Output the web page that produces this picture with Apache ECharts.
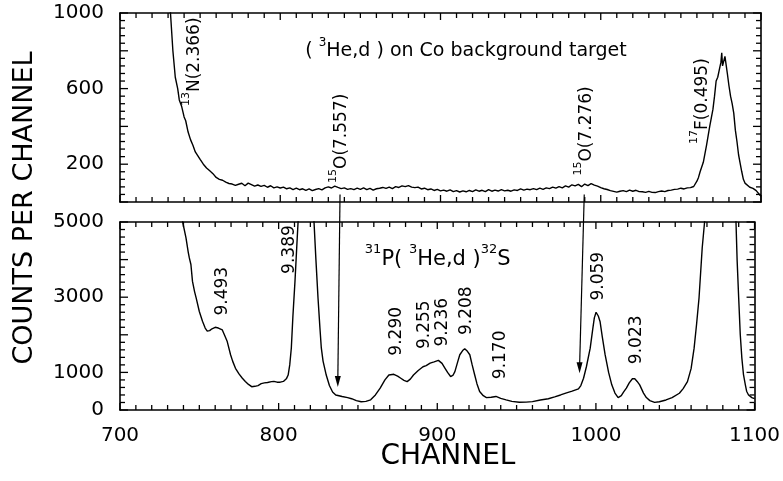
<!DOCTYPE html>
<html><head><meta charset="utf-8">
<script src="https://cdn.jsdelivr.net/npm/echarts@6/dist/echarts.min.js"></script>
<style>html,body{margin:0;padding:0;background:#fff}#c{width:783px;height:481px}</style>
</head><body><div id="c"></div>
<script>
// ---------- data ----------
const xTickLabels = [700, 800, 900, 1000, 1100];
const topTickLabels = [200, 600, 1000];
const bottomTickLabels = [0, 1000, 3000, 5000];

const topChannels = [728,730,731.5,733,734.5,736,737,738.5,740,741,742.5,744,745.5,747,748.5,750,752,754,756,758,760,762,764,766,768,
 770,772,774,776,778,780,782,784,786,788,790,792,794,796,798,800,802,804,806,808,810,812,814,816,818,820,822,824,826,828,830,832,834,836,838,
 840,842,844,846,848,850,852,854,856,858,860,862,864,866,868,870,872,874,876,878,880,882,884,886,888,890,892,894,896,898,900,902,904,906,908,
 910,912,914,916,918,920,922,924,926,928,930,932,934,936,938,940,942,944,946,948,950,952,954,956,958,960,962,964,966,968,970,972,974,976,978,
 980,982,984,986,988,990,992,994,996,998,1000,1002,1004,1006,1008,1010,1012,1014,1016,1018,1020,1022,1024,1026,1028,1030,1032,1034,1036,1038,
 1040,1042,1044,1046,1048,1050,1052,1054,1056,1058,1060,1061,1062,1063,1064,1065,1066,1067,1068,1069,1070,1071,1072,1073,1074,1075,1075.5,1076,
 1077,1077.5,1078,1079,1080,1081,1082,1083,1084,1085,1086,1087,1088,1089,1090,1091,1093,1095,1097,1099,1100];
const topCounts = [1400,1150,1000,800,660,600,540,505,450,430,370,330,300,265,245,225,200,180,165,150,130,120,115,105,98,
 95,88,94,99,86,100,92,84,90,83,88,78,86,75,80,74,79,70,75,66,73,65,70,62,69,60,66,71,64,75,80,74,84,77,71,
 75,67,71,65,73,67,75,65,72,63,70,73,77,72,79,71,81,77,85,81,87,79,76,79,69,73,65,69,61,67,59,63,57,64,55,
 60,53,59,54,61,55,64,57,62,55,65,57,63,58,65,59,62,57,64,61,69,63,68,65,71,65,73,67,75,71,79,73,81,75,85,
 79,91,85,93,81,95,87,97,89,84,76,70,66,60,56,52,57,60,55,63,57,62,55,54,51,56,51,50,55,58,
 55,61,63,67,68,73,69,75,76,82,110,130,160,185,210,255,300,350,400,445,490,560,640,660,700,740,790,720,
 710,770,775,680,615,560,520,470,380,320,250,205,160,120,100,90,78,72,60,40,30];

const bottomChannels = [737,739.5,741.6,743,743.7,744.7,745.7,747,748,750,752,753.7,755,756.5,758,760,762,764.5,766,767.6,769.7,771,772.8,775,777,779,781,783,
 785,787,789,791,793,795.5,797,799,801,803,805,806,807,808,809,810.3,811.5,812.5,814,816,818,820,822.3,823.5,824.8,826,826.9,828,830,832,834,836,838,840,
 843.5,846,849,852,855,858,861,864,867,869.5,872.6,875,877,879,881,883,885,888,891,893,895.5,898,900.7,903,904.9,906.5,908.4,910,911.1,913,914.2,916,
 917.3,919,920.5,922,923.6,925,926.7,929,931,934,937,940,943.4,947,951.7,956,960,965,970,974,977.7,981,985,989,990.5,992.2,994,996.4,998,999,1000.1,
 1001.5,1002.6,1004,1005.8,1008,1010,1012,1014,1016,1017.5,1019.2,1021,1023,1024.5,1026,1027.6,1030,1031.8,1034,1037,1040,1044.2,1048,1052.6,1055,
 1057.7,1060,1061.9,1063.5,1065,1067,1068.5,1070,1075,1082,1086,1088.3,1089,1090,1091,1092,1093,1094.2,1095,1096.2,1098.3,1100];
const bottomCounts = [6500,5000,4580,4200,4045,3870,3420,3150,2980,2620,2360,2180,2100,2110,2160,2200,2180,2130,1980,1820,1470,1300,1110,960,850,760,680,620,
 630,650,700,720,730,755,760,740,740,760,840,930,1200,1650,2500,3420,4400,5200,8000,10000,10000,8000,5000,4000,2990,2200,1650,1300,930,650,480,400,380,360,
 330,300,250,220,230,270,400,580,800,930,950,900,845,790,755,820,930,1050,1150,1180,1245,1280,1320,1240,1110,1000,890,930,1020,1300,1470,1580,
 1630,1560,1470,1200,930,700,490,380,330,340,360,310,270,230,205,210,222,265,300,350,400,450,500,560,650,845,1150,1645,2150,2450,2600,
 2500,2355,1950,1470,1000,670,450,330,380,480,580,720,830,830,760,667,450,330,250,204,220,267,330,445,570,
 755,1100,1645,2300,2980,4310,5000,7000,10000,10000,7000,5000,4000,2980,2000,1380,950,667,500,400,330,300];

// annotations (text, channel, counts)
const topNoteTexts = ['{s|13}{n|N(2.366)}', '{s|15}{n|O(7.557)}', '{s|15}{n|O(7.276)}', '{s|17}{n|F(0.495)}'];
const topNoteChannels = [744.9, 836.7, 989.5, 1061.9];
const topNoteCounts = [742, 337, 376, 534];
const topTitleText = '{h|( }{hs|3}{h|He,d ) on Co background target}';
const topTitleChannel = 915.9, topTitleCount = 810;

const bottomNoteTexts = ['9.493', '9.389', '9.290', '9.255', '9.236', '9.208', '9.170', '9.059', '9.023'];
const bottomNoteChannels = [763, 805.5, 872.9, 890.3, 901.6, 916.8, 938.4, 1000.1, 1024.2];
const bottomNoteCounts = [3160, 4267, 2093, 2267, 2333, 2640, 1467, 3560, 1867];
const bottomTitleText = '{H|31}{B|P( }{H|3}{B|He,d )}{H|32}{B|S}';
const bottomTitleChannel = 900.3, bottomTitleCount = 4080;

const arrowChannels = [837.3, 989.7];
const arrowStartCounts = [40, 40];   // in top panel
const arrowTipCounts = [610, 980];   // in bottom panel

// ---------- chart ----------
const FONT = 'DejaVu Sans';
const GRIDS = [
  {left: 120, top: 13, width: 641, height: 189},
  {left: 120, top: 222, width: 641, height: 188}
];
const chart = echarts.init(document.getElementById('c'));
function axLine() { return {show: true, onZero: false, lineStyle: {color: '#000', width: 1.6}}; }
function xAx(grid, pos, labels) {
  return {
    type: 'value', gridIndex: grid, position: pos, min: 700, max: 1100, interval: 100,
    axisLine: axLine(), axisTick: {show: false}, minorTick: {show: false},
    splitLine: {show: false}, minorSplitLine: {show: false},
    axisLabel: {show: labels, margin: 16, color: '#000', fontFamily: FONT, fontSize: 20,
      formatter: v => xTickLabels.includes(v) ? String(v) : ''}
  };
}
function yAx(grid, pos, max, interval, labels, shown) {
  return {
    type: 'value', gridIndex: grid, position: pos, min: 0, max: max, interval: interval,
    axisLine: axLine(), axisTick: {show: false}, minorTick: {show: false},
    splitLine: {show: false}, minorSplitLine: {show: false},
    axisLabel: {show: labels, margin: 16, color: '#000', fontFamily: FONT, fontSize: 20,
      formatter: v => shown.includes(v) ? String(v) : ''}
  };
}
const pairs = (xs, ys) => xs.map((x, i) => [x, ys[i]]);
const tok = (size, va, lh) => ({fontFamily: FONT, fontSize: size, color: '#000', verticalAlign: va, lineHeight: lh,
  textBorderWidth: 0, textBorderColor: 'transparent', textShadowBlur: 0});
const rich = {
  n: tok(17, 'bottom', 22), s: tok(11, 'top', 22),
  h: tok(19, 'bottom', 24), hs: tok(12, 'top', 24),
  B: tok(21, 'bottom', 26), H: tok(13, 'top', 26)
};

const topNotes = topNoteTexts.map((t, i) => ({value: [topNoteChannels[i], topNoteCounts[i]], label: {formatter: t, rotate: 90}}));
topNotes.push({value: [topTitleChannel, topTitleCount], label: {formatter: topTitleText, rotate: 0}});
const bottomNotes = bottomNoteTexts.map((t, i) => ({value: [bottomNoteChannels[i], bottomNoteCounts[i]], label: {formatter: '{n|' + t + '}', rotate: 90}}));
bottomNotes.push({value: [bottomTitleChannel, bottomTitleCount], label: {formatter: bottomTitleText, rotate: 0}});

const noteLabel = {show: true, position: 'inside', color: '#000', textBorderWidth: 0, textBorderColor: 'transparent', fontFamily: FONT, rich: rich};

chart.setOption({
  animation: false,
  backgroundColor: '#fff',
  grid: GRIDS,
  xAxis: [xAx(0, 'bottom', false), xAx(0, 'top', false), xAx(1, 'bottom', true), xAx(1, 'top', false)],
  yAxis: [
    yAx(0, 'left', 1000, 200, true, topTickLabels), yAx(0, 'right', 1000, 200, false, topTickLabels),
    yAx(1, 'left', 5000, 1000, true, bottomTickLabels), yAx(1, 'right', 5000, 1000, false, bottomTickLabels)
  ],
  series: [
    {type: 'line', xAxisIndex: 0, yAxisIndex: 0, data: pairs(topChannels, topCounts), showSymbol: false, clip: true,
      lineStyle: {color: '#000', width: 1.4}},
    {type: 'line', xAxisIndex: 2, yAxisIndex: 2, data: pairs(bottomChannels, bottomCounts), showSymbol: false, clip: true,
      lineStyle: {color: '#000', width: 1.4}},
    {type: 'scatter', xAxisIndex: 0, yAxisIndex: 0, symbolSize: 0, silent: true, itemStyle: {opacity: 1}, data: topNotes, label: noteLabel},
    {type: 'scatter', xAxisIndex: 2, yAxisIndex: 2, symbolSize: 0, silent: true, itemStyle: {opacity: 1}, data: bottomNotes, label: noteLabel}
  ]
});

const graphic = [
  {type: 'text', x: 25, y: 208, rotation: Math.PI / 2,
    style: {text: 'COUNTS PER CHANNEL', font: '27px "DejaVu Sans"', fill: '#000', align: 'center', verticalAlign: 'middle'}},
  {type: 'text', x: 448, y: 457,
    style: {text: 'CHANNEL', font: '28px "DejaVu Sans"', fill: '#000', align: 'center', verticalAlign: 'middle'}}
];

// linear pixel mapping taken from the library's own scale at two interior points
function mapper(xi, yi, ya, yb, gi, ymax) {
  const A = chart.convertToPixel({xAxisIndex: xi, yAxisIndex: yi}, [800, ya]);
  const B = chart.convertToPixel({xAxisIndex: xi, yAxisIndex: yi}, [1000, yb]);
  const ok = A && B && [A[0], A[1], B[0], B[1]].every(Number.isFinite);
  const g = GRIDS[gi];
  return (x, y) => ok
    ? [A[0] + (x - 800) * (B[0] - A[0]) / 200, A[1] + (y - ya) * (B[1] - A[1]) / (yb - ya)]
    : [g.left + (x - 700) / 400 * g.width, g.top + g.height * (1 - y / ymax)];
}
const ticks = [];
function tick(a, b) { ticks.push([[a[0], a[1]], [b[0], b[1]]]); }
[[0, 0, 200, 800, 0, 1000, 40, 200], [2, 2, 1000, 4000, 1, 5000, 200, 1000]].forEach(([xi, yi, ya, yb, gi, ymax, ystep, ymajor]) => {
  const P = mapper(xi, yi, ya, yb, gi, ymax);
  for (let v = 700; v <= 1100; v += 10) {
    const L = (v % 100 === 0) ? 7 : 5, b = P(v, 0), t = P(v, ymax);
    tick(b, [b[0], b[1] - L]); tick(t, [t[0], t[1] + L]);
  }
  for (let v = 0; v <= ymax; v += ystep) {
    const L = (v % ymajor === 0) ? 8 : 5, l = P(700, v), r = P(1100, v);
    tick(l, [l[0] + L, l[1]]); tick(r, [r[0] - L, r[1]]);
  }
});
ticks.forEach(([a, b]) => graphic.push({type: 'polyline', z: 100, silent: true,
  shape: {points: [a, b]}, style: {stroke: '#000', lineWidth: 1.3, fill: null}}));

arrowChannels.forEach((ch, i) => {
  const p0 = chart.convertToPixel({xAxisIndex: 0, yAxisIndex: 0}, [ch, arrowStartCounts[i]]);
  const p1 = chart.convertToPixel({xAxisIndex: 2, yAxisIndex: 2}, [ch, arrowTipCounts[i]]);
  graphic.push({type: 'line', shape: {x1: p0[0], y1: p0[1], x2: p1[0], y2: p1[1] - 6}, style: {stroke: '#000', lineWidth: 1.2}});
  graphic.push({type: 'polygon', shape: {points: [[p1[0], p1[1]], [p1[0] - 3, p1[1] - 11], [p1[0] + 3, p1[1] - 11]]}, style: {fill: '#000'}});
});
chart.setOption({graphic: graphic});
</script></body></html>
